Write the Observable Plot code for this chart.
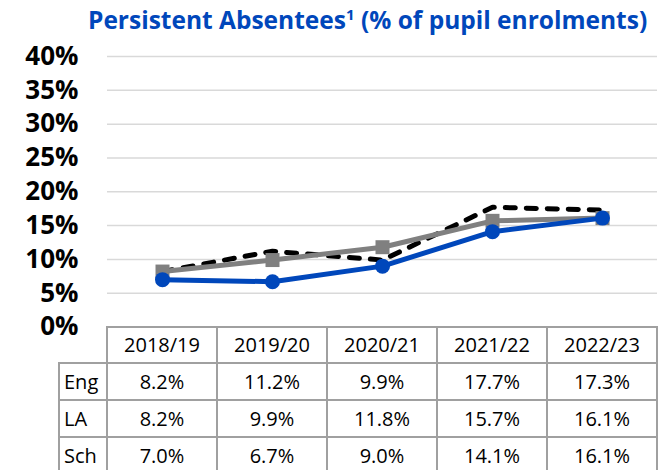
<!DOCTYPE html>
<html>
<head>
<meta charset="utf-8">
<script src="https://cdn.jsdelivr.net/npm/d3@7"></script>
<script src="https://cdn.jsdelivr.net/npm/@observablehq/plot@0.6"></script>
<style>
  html, body { margin: 0; padding: 0; background: white; }
  #wrap { position: relative; width: 664px; height: 470px; overflow: hidden; font-family: "Open Sans", sans-serif; }
  #title { position: absolute; left: 88px; top: 4.5px; white-space: nowrap; font-size: 24.5px; line-height: 30px; font-weight: bold; color: #0047BB; }
  #title sup { font-size: 15px; vertical-align: 0; position: relative; top: -9px; }
  #chart { position: absolute; left: 0; top: 0; }
  .cell { position: absolute; box-sizing: border-box; border: 2px solid #a0a0a0; font-size: 20px; color: #000; display: flex; align-items: center; justify-content: center; background: transparent; }
  .cell.lab { justify-content: flex-start; padding-left: 4px; }
</style>
</head>
<body>
<div id="wrap">
  <div id="chart"></div>
  <div id="title">Persistent Absentees<sup>1</sup> (% of pupil enrolments)</div>
  <div id="table"></div>
</div>
<script>
const years = ["2018/19", "2019/20", "2020/21", "2021/22", "2022/23"];
const seriesNames = ["Eng", "LA", "Sch"];
const eng = [8.2, 11.2, 9.9, 17.7, 17.3];
const la = [8.2, 9.9, 11.8, 15.7, 16.1];
const sch = [7.0, 6.7, 9.0, 14.1, 16.1];
const yTicks = [0, 5, 10, 15, 20, 25, 30, 35, 40];

const valuesBySeries = {Eng: eng, LA: la, Sch: sch};
const rows = seriesNames.flatMap(s => years.map((yr, i) => ({series: s, year: yr, value: valuesBySeries[s][i]})));
const engRows = rows.filter(d => d.series === "Eng");
const laRows = rows.filter(d => d.series === "LA");
const schRows = rows.filter(d => d.series === "Sch");

const W = 664, H = 470;
const mL = 107, mR = 7, mT = 56, mB = 143.5;

const chart = Plot.plot({
  width: W, height: H,
  marginLeft: mL, marginRight: mR, marginTop: mT, marginBottom: mB,
  x: {type: "point", domain: years, padding: 0.5, axis: null},
  y: {domain: [0, 40], axis: null},
  style: {fontFamily: "Open Sans", background: "transparent", color: "black"},
  marks: [
    Plot.ruleY(yTicks.filter(d => d > 0), {stroke: "#d9d9d9", strokeWidth: 1.5}),
    Plot.axisY(yTicks, {label: null, tickSize: 0, tickPadding: 29, tickFormat: d => d + "%", fontSize: 26, fontWeight: "bold", fill: "black"}),
    Plot.line(engRows, {x: "year", y: "value", stroke: "black", strokeWidth: 5, strokeDasharray: "10,11", strokeLinecap: "round"}),
    Plot.line(laRows, {x: "year", y: "value", stroke: "#808080", strokeWidth: 5}),
    Plot.dot(laRows, {x: "year", y: "value", symbol: "square", r: 7.9, fill: "#808080", stroke: "none"}),
    Plot.line(schRows, {x: "year", y: "value", stroke: "#0047BB", strokeWidth: 5}),
    Plot.dot(schRows, {x: "year", y: "value", symbol: "circle", r: 7.5, fill: "#0047BB", stroke: "none"})
  ]
});
document.getElementById("chart").appendChild(chart);

// Data table under the chart, aligned to the chart's x scale
const xs = chart.scale("x");
const step = xs.apply(years[1]) - xs.apply(years[0]);
const table = document.getElementById("table");
const top0 = H - mB;
const headerH = 36, rowH = 37;
const labLeft = 59;
function addCell(x0, y0, w, h, text, cls) {
  const d = document.createElement("div");
  d.className = "cell" + (cls ? " " + cls : "");
  d.style.left = (x0 - 1) + "px";
  d.style.top = (y0 - 1) + "px";
  d.style.width = (w + 2) + "px";
  d.style.height = (h + 2) + "px";
  d.textContent = text;
  table.appendChild(d);
}
years.forEach(yr => {
  const cx = xs.apply(yr);
  addCell(cx - step / 2, top0, step, headerH, yr);
});
seriesNames.forEach((s, r) => {
  const y0 = top0 + headerH + r * rowH;
  const firstX = xs.apply(years[0]) - step / 2;
  addCell(labLeft, y0, firstX - labLeft, rowH, s, "lab");
  years.forEach((yr, i) => {
    const cx = xs.apply(yr);
    addCell(cx - step / 2, y0, step, rowH, valuesBySeries[s][i].toFixed(1) + "%");
  });
});
</script>
</body>
</html>
